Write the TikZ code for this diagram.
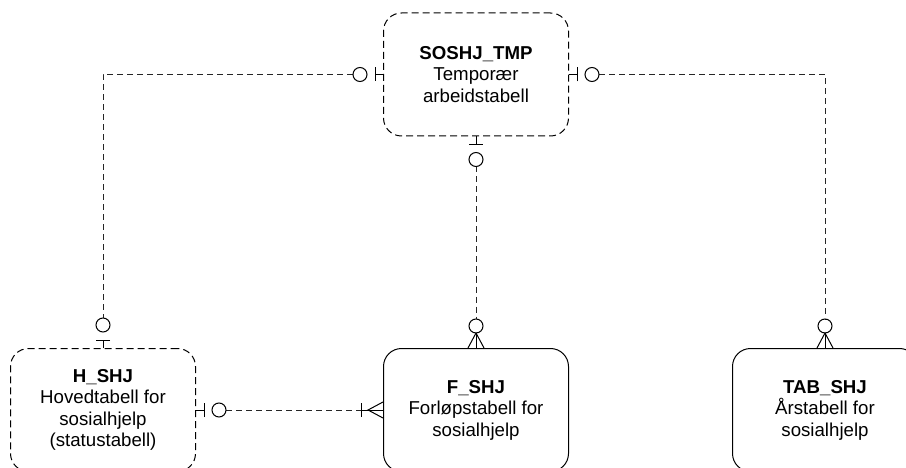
\documentclass[tikz,border=0pt]{standalone}
\usepackage{fontspec}
\setmainfont{Liberation Sans}
\tikzset{
  entity/.style={draw, rounded corners=18pt, minimum width=185pt, minimum height=123pt,
    inner sep=0pt, align=center, font=\fontsize{18.67}{21.5}\selectfont},
  tmpentity/.style={entity, dash pattern=on 7pt off 4pt},
  conn/.style={draw=black!85, dash pattern=on 6pt off 4pt},
  % zero or one
  zeroone/.pic={
    \draw (0,0) -- (8,0);
    \draw (8,-7) -- (8,7);
    \draw (23,0) circle (7pt);
  },
  % zero or many
  zeromany/.pic={
    \draw (0,0) -- (15,0);
    \draw (0,-8) -- (15,0) -- (0,8);
    \draw (22,0) circle (7pt);
  },
  % one or many
  onemany/.pic={
    \draw (0,0) -- (22,0);
    \draw (0,-8) -- (15,0) -- (0,8);
    \draw (22,-7) -- (22,7);
  },
}
\begin{document}
\begin{tikzpicture}[x=1pt, y=1pt, line width=1pt]
			\useasboundingbox (0,0) rectangle (906,-468);
			
			\node[tmpentity] (tmp) at (476,-74.5) {\textbf{SOSHJ\_TMP}\\Temporær\\arbeidstabell};
			\node[tmpentity] (h) at (103,-410) {\textbf{H\_SHJ}\\Hovedtabell for\\sosialhjelp\\(statustabell)};
			\node[entity] (f) at (476,-410) {\textbf{F\_SHJ}\\Forløpstabell for\\sosialhjelp};
			\node[entity] (tab) at (825,-410) {\textbf{TAB\_SHJ}\\Årstabell for\\sosialhjelp};
			
			\draw[conn, shorten <=30pt, shorten >=30pt] (tmp.west) -| (h.north);
			\draw[conn, shorten <=30pt, shorten >=29pt] (tmp.south) -- (f.north);
			\draw[conn, shorten <=30pt, shorten >=29pt] (tmp.east) -| (tab.north);
			\draw[conn, shorten <=30pt, shorten >=22pt] (h.east) -- (f.west);
			
			\pic[rotate=180] at (tmp.west) {zeroone};
			\pic[rotate=90] at (h.north) {zeroone};
			\pic[rotate=-90] at (tmp.south) {zeroone};
			\pic[rotate=90] at (f.north) {zeromany};
			\pic at (tmp.east) {zeroone};
			\pic[rotate=90] at (tab.north) {zeromany};
			\pic at (h.east) {zeroone};
			\pic[rotate=180] at (f.west) {onemany};
		\end{tikzpicture}
\end{document}
